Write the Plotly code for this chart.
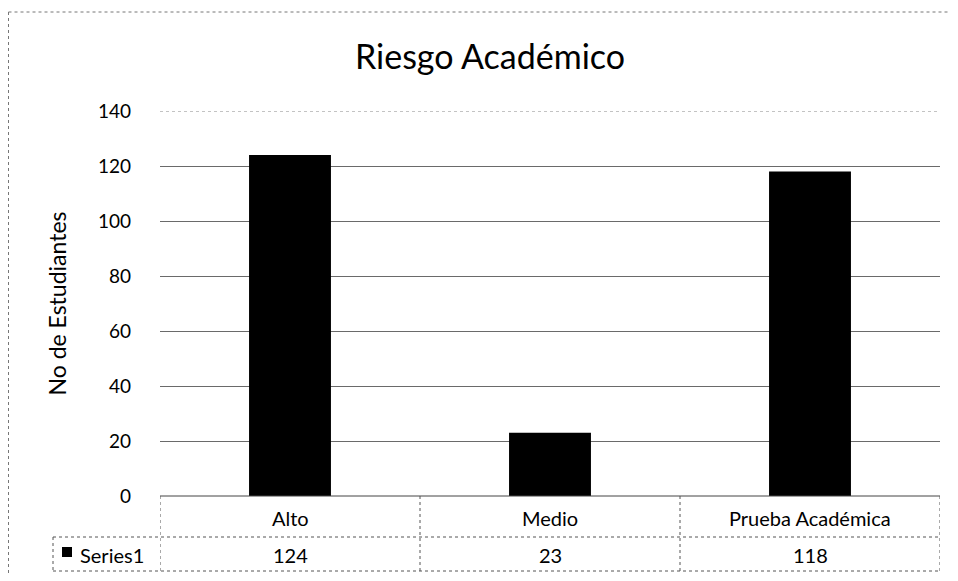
import plotly.graph_objects as go

categories = ["Alto", "Medio", "Prueba Académica"]
values = [124, 23, 118]
series_name = "Series1"
title_text = "Riesgo Académico"
y_title = "No de Estudiantes"
y_ticks = [0, 20, 40, 60, 80, 100, 120, 140]

# page body has an 8px margin, so the figure is laid out 8px in from the window edge
OFF = 8
W, H = 958 - 2 * OFF, 581 - 2 * OFF
FONT = "Lato, 'Open Sans', sans-serif"

def py(ref_px):
    return 1 - (ref_px - OFF) / H

def pxx(ref_px):
    return (ref_px - OFF) / W

x0, x1 = 160, 940
y_top, y_zero = 111, 496
row_mid, row_bot = 537, 571
legend_left = 53

fig = go.Figure()
fig.add_trace(go.Bar(
    x=list(range(len(categories))), y=values, name=series_name,
    marker=dict(color="#000000", line=dict(width=0)), width=0.315,
    showlegend=False, hoverinfo="skip",
))

solid = dict(color="#444444", width=1)
dotted = dict(color="#555555", width=1, dash="dot")
shapes = []
# top grid line at 140
shapes.append(dict(type="line", xref="paper", yref="y", x0=pxx(x0), x1=pxx(x1), y0=140, y1=140, line=dict(color="#888888", width=1, dash="dot")))
# table lines
shapes.append(dict(type="line", xref="paper", yref="paper", x0=pxx(x0), x1=pxx(x1), y0=py(y_zero), y1=py(y_zero), line=solid))
shapes.append(dict(type="line", xref="paper", yref="paper", x0=pxx(legend_left), x1=pxx(x1), y0=py(row_mid), y1=py(row_mid), line=dotted))
shapes.append(dict(type="line", xref="paper", yref="paper", x0=pxx(legend_left), x1=pxx(x1), y0=py(row_bot), y1=py(row_bot), line=dotted))
for b in [i - 0.5 for i in range(len(categories) + 1)]:
    shapes.append(dict(type="line", xref="x", yref="paper", x0=b, x1=b, y0=py(y_zero), y1=py(row_bot), line=dotted))
shapes.append(dict(type="line", xref="paper", yref="paper", x0=pxx(legend_left), x1=pxx(legend_left), y0=py(row_mid), y1=py(row_bot), line=dotted))
# legend key
shapes.append(dict(type="rect", xref="paper", yref="paper", x0=pxx(62), x1=pxx(72), y0=py(557), y1=py(547), fillcolor="#000000", line=dict(width=0)))
# outer frame (left and top edges)
shapes.append(dict(type="line", xref="paper", yref="paper", x0=pxx(8.5), x1=pxx(8.5), y0=0, y1=py(12), line=dict(color="#777777", width=1, dash="dot")))
shapes.append(dict(type="line", xref="paper", yref="paper", x0=pxx(8.5), x1=1, y0=py(12), y1=py(12), line=dict(color="#777777", width=1, dash="dot")))

tfont = dict(size=20, color="#000000", family=FONT)
annotations = []
for i, c in enumerate(categories):
    annotations.append(dict(x=i, xref="x", y=py((y_zero + row_mid) / 2 + 1), yref="paper", text=c, showarrow=False,
                            xanchor="center", yanchor="middle", font=tfont))
    annotations.append(dict(x=i, xref="x", y=py((row_mid + row_bot) / 2 + 1), yref="paper", text=str(values[i]), showarrow=False,
                            xanchor="center", yanchor="middle", font=tfont))
annotations.append(dict(x=pxx(78), xref="paper", y=py((row_mid + row_bot) / 2 + 1), yref="paper", text=series_name, showarrow=False,
                        xanchor="left", yanchor="middle", font=tfont))

fig.update_layout(
    width=W, height=H,
    margin=dict(l=0, r=0, t=0, b=0, autoexpand=False),
    paper_bgcolor="white", plot_bgcolor="white",
    title=dict(text=title_text, x=pxx(490), xanchor="center", y=py(57), yanchor="middle", font=dict(size=34, color="#000000", family=FONT)),
    xaxis=dict(domain=[pxx(x0), pxx(x1)], range=[-0.5, len(categories) - 0.5], showticklabels=False, showgrid=False, zeroline=False, showline=False, ticks=""),
    yaxis=dict(domain=[py(y_zero), py(y_top)], range=[0, 140], tickvals=y_ticks, showgrid=True, gridcolor="#6a6a6a", gridwidth=1, zeroline=False, showline=False,
               ticks="", ticklabelstandoff=28, tickfont=dict(size=19, color="#000000", family=FONT),
               title=dict(text=y_title, font=dict(size=23, color="#000000", family=FONT), standoff=24)),
    shapes=shapes, annotations=annotations,
)

fig.write_html("out.html")
